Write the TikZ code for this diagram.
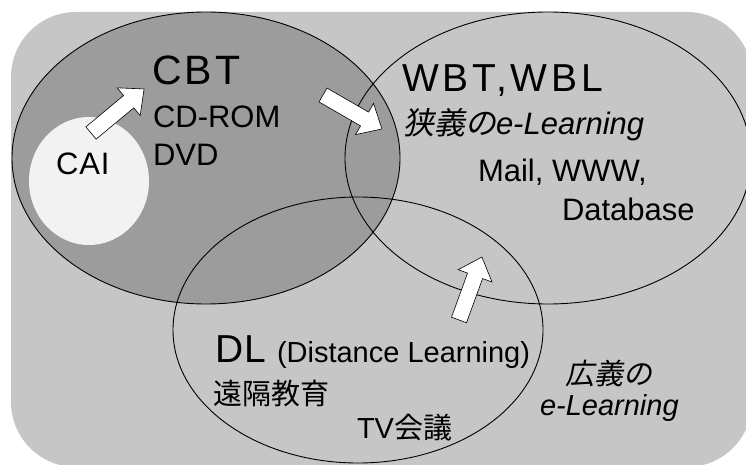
\documentclass[tikz,border=0pt]{standalone}
\usepackage{fontspec}
\setmainfont{Liberation Sans}
\newfontfamily\spacedcbt[LetterSpace=8]{Liberation Sans}
\newfontfamily\spacedwbt[LetterSpace=10]{Liberation Sans}
\newfontfamily\spacedlight[LetterSpace=3]{Liberation Sans}
\newfontfamily\cjk{Noto Sans CJK JP}
\newfontfamily\cjkit[FakeSlant=0.2]{Noto Sans CJK JP}
\usetikzlibrary{shapes.geometric}
\definecolor{bggray}{HTML}{C6C6C6}
\definecolor{cbtgray}{HTML}{9C9C9C}
\definecolor{caigray}{HTML}{F2F2F2}
\tikzset{
  venn/.style={ellipse, inner sep=0pt, outer sep=0pt, line width=0.9pt},
  blockarrow/.style={fill=white, draw=black, line width=0.6pt, line join=miter},
  txt/.style={anchor=base west, inner sep=0pt, outer sep=0pt, text=black},
  mid/.style={txt, font=\fontsize{31}{37}\selectfont},
  small/.style={txt, font=\fontsize{29}{34}\selectfont},
}
\newcommand\blockarr[3]{%
  \draw[blockarrow, shift={(#1)}, rotate=#2]
    (0,-8) -- ({#3-20},-8) -- ({#3-20},-18) -- (#3,0) -- ({#3-20},18)
    -- ({#3-20},8) -- (0,8) -- cycle;}
\begin{document}
\begin{tikzpicture}[x=1pt,y=-1pt]
\useasboundingbox (0,0) rectangle (746,465);
\begin{scope}
  \clip (0,0) rectangle (746,465);
  \fill[bggray, rounded corners=65pt] (11,12) rectangle (752,467);
\end{scope}
% ellipses
\node[venn, fill=cbtgray, draw=black, minimum width=388pt, minimum height=292pt] (cbt) at (206,158) {};
\node[venn, fill=caigray, minimum width=120pt, minimum height=128pt] (cai) at (89,181) {};
\node[venn, draw=black, minimum width=406pt, minimum height=292pt] (wbt) at (548,158) {};
\node[venn, draw=black, minimum width=370pt, minimum height=266pt] (dl) at (358,330) {};
% block arrows
\coordinate (a1) at (91,133);
\coordinate (a2) at (323,95);
\coordinate (a3) at (459,320);
\blockarr{a1}{39.7}{69}
\blockarr{a2}{-30}{68}
\blockarr{a3}{70}{67}
% texts
\node[txt, font=\spacedcbt\fontsize{41}{46}\selectfont] (tcbt) at (152,85) {CBT};
\node[mid] (tcd) at (153,128) {CD-ROM};
\node[mid] (tdvd) at (153,165) {DVD};
\node[txt, font=\spacedlight\fontsize{31}{37}\selectfont] (tcai) at (56,175) {CAI};
\node[txt, font=\spacedwbt\fontsize{39}{44}\selectfont] (twbt) at (402,92) {WBT,WBL};
\node[mid] (tnarrow) at (403,135) {{\cjkit 狭義の}\itshape e-Learning};
\node[mid] (tmail) at (478,182) {Mail, WWW,};
\node[mid] (tdb) at (562,220) {Database};
\node[txt, font=\spacedlight\fontsize{39}{44}\selectfont] (tdl) at (215,362) {DL};
\node[small] (tdist) at (277,362) {(Distance Learning)};
\node[small] (tenkaku) at (213,404) {\cjk 遠隔教育};
\node[small] (ttv) at (357,438) {TV{\cjk 会議}};
\node[small] (tbroad1) at (565,384) {\cjkit 広義の};
\node[small] (tbroad2) at (540,415) {\itshape e-Learning};
\end{tikzpicture}
\end{document}
